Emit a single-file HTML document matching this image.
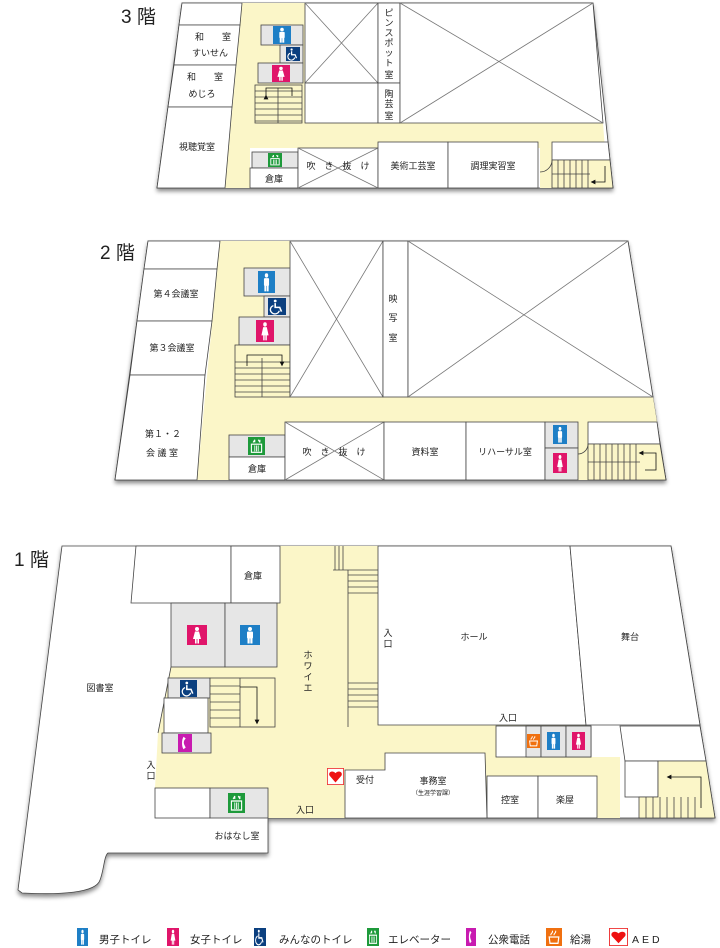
<!DOCTYPE html>
<html><head><meta charset="utf-8"><style>
body{margin:0;background:#fff;}
svg{display:block;}
text{font-family:"Liberation Sans","Noto Sans CJK JP",sans-serif;fill:#222;}
</style></head><body>
<svg width="720" height="948" viewBox="0 0 720 948" xmlns="http://www.w3.org/2000/svg">
<defs>
<filter id="sh" x="-5%" y="-5%" width="110%" height="115%"><feDropShadow dx="0" dy="3" stdDeviation="2" flood-color="#000" flood-opacity="0.45"/></filter>
<marker id="ah" markerWidth="6" markerHeight="6" refX="3" refY="3" orient="auto"><path d="M0,0 L6,3 L0,6 Z" fill="#111"/></marker>
<symbol id="men" viewBox="0 0 20 20" preserveAspectRatio="none"><rect width="20" height="20" fill="#1e7fc6"/><circle cx="10" cy="4" r="2" fill="#fff"/><rect x="7" y="6.5" width="6" height="7" rx="1" fill="#fff"/><rect x="7.5" y="12" width="2.2" height="6.5" fill="#fff"/><rect x="10.3" y="12" width="2.2" height="6.5" fill="#fff"/></symbol>
<symbol id="wom" viewBox="0 0 20 20" preserveAspectRatio="none"><rect width="20" height="20" fill="#e0156a"/><circle cx="10" cy="4" r="2" fill="#fff"/><path d="M8,6.5 H12 L14,14 H6 Z" fill="#fff"/><rect x="8" y="13" width="1.6" height="5.5" fill="#fff"/><rect x="10.4" y="13" width="1.6" height="5.5" fill="#fff"/></symbol>
<symbol id="whl" viewBox="0 0 20 20" preserveAspectRatio="none"><rect width="20" height="20" fill="#0b3f7f"/><circle cx="8" cy="3.5" r="1.6" fill="#fff"/><path d="M8,6 V11 H13 L15,16" stroke="#fff" stroke-width="1.8" fill="none"/><path d="M6,9 A5,5 0 1 0 12.5,15" stroke="#fff" stroke-width="1.5" fill="none"/></symbol>
<symbol id="elv" viewBox="0 0 20 20" preserveAspectRatio="none"><rect width="20" height="20" fill="#1e9a3b"/><rect x="4" y="8" width="12" height="9" fill="none" stroke="#fff" stroke-width="1.3"/><path d="M8,9.5V16M10,9.5V16M12,9.5V16" stroke="#fff"/><path d="M6,6 L8,3 M8,6 V3 M12,3 L14,6 M14,3 V6" stroke="#fff" stroke-width="1.2"/></symbol>
<symbol id="phn" viewBox="0 0 20 20" preserveAspectRatio="none"><rect width="20" height="20" fill="#c81bb0"/><path d="M8,3 C5,6 5,14 8,17 L11,15 L9,12 C8,10 8,9 9,7 L11,5 Z" fill="#fff"/></symbol>
<symbol id="hot" viewBox="0 0 20 20" preserveAspectRatio="none"><rect width="20" height="20" fill="#f07010"/><path d="M4,10 H16 L15,17 H5 Z" fill="none" stroke="#fff" stroke-width="1.5"/><path d="M6,8 C6,5 9,6 8,3 M10,8 C10,5 13,6 12,3" stroke="#fff" stroke-width="1.3" fill="none"/></symbol>
<symbol id="aed" viewBox="0 0 20 20" preserveAspectRatio="none"><rect x="0.5" y="0.5" width="19" height="19" fill="#fff" stroke="#e33" stroke-width="1"/><path d="M10,17 L3,9 C1,5 6,2 10,6 C14,2 19,5 17,9 Z" fill="#e11"/></symbol>
</defs>

<g stroke="#444" stroke-width="0.8" fill="#fff">
<!-- ========== 3F ========== -->
<text x="121" y="23" font-size="19" stroke="none">3 階</text>
<polygon points="182,3 593,3 613,188 157,188" filter="url(#sh)"/>
<polygon points="242,3 305,3 305,123 603,123 608,188 540,188 540,148 250,148 250,188 225,188" fill="#fbf6c8" stroke="none"/>
<polygon points="182,3 242,3 240,25 179,25"/>
<polygon points="179,25 240,25 236,65 174,65"/>
<polygon points="174,65 236,65 232,107 168,107"/>
<polygon points="168,107 232,107 225,188 157,188"/>
<rect x="261" y="25" width="42" height="20" fill="#e6e6e6"/>
<rect x="280" y="45" width="23" height="18" fill="#e6e6e6"/>
<rect x="258" y="63" width="45" height="20" fill="#e6e6e6"/>
<rect x="255" y="85" width="47" height="38" fill="#fbf6c8"/>
<path d="M255,91H302M255,97H302M255,103H302M255,109H302M255,115H302M255,121H302M278,88V123" fill="none"/>
<polyline points="266,97 266,88 292,88 292,96" fill="none" stroke="#111" marker-start="url(#ah)"/>
<rect x="305" y="3" width="73" height="80"/><path d="M305,3L378,83M378,3L305,83" stroke="#777"/>
<rect x="305" y="83" width="73" height="40"/>
<rect x="378" y="3" width="22" height="80"/>
<rect x="378" y="83" width="22" height="40"/>
<polygon points="400,3 593,3 603,123 400,123"/><path d="M400,3L603,123M593,3L400,123" stroke="#777"/>
<rect x="252" y="152" width="46" height="16" fill="#e6e6e6"/>
<rect x="250" y="168" width="48" height="20"/>
<rect x="298" y="148" width="80" height="40"/><path d="M298,148L378,188M378,148L298,188" stroke="#777"/>
<rect x="378" y="142" width="70" height="46"/>
<rect x="448" y="142" width="90" height="46"/>
<polygon points="552,142 608,142 610,160 552,160"/>
<polygon points="552,160 610,160 613,188 552,188" fill="#fbf6c8"/>
<path d="M558,160V188M564,160V188M570,160V188M576,160V188M582,160V188M588,160V188M552,174H590" fill="none"/>
<path d="M552,160 A12,12 0 0 1 540,172" fill="none"/>
<polyline points="605,166 605,182 593,182" fill="none" stroke="#111" marker-end="url(#ah)"/>

<!-- ========== 2F ========== -->
<text x="100" y="259" font-size="19" stroke="none">2 階</text>
<polygon points="148,241 628,241 666,480 115,480" filter="url(#sh)"/>
<polygon points="220,241 292,241 292,397 653,397 657,422 588,422 588,480 578,480 578,422 285,422 285,435 229,435 229,480 197,480" fill="#fbf6c8" stroke="none"/>
<polygon points="148,241 220,241 217,269 144,269"/>
<polygon points="144,269 217,269 212,321 137,321"/>
<polygon points="137,321 212,321 205,375 130,375"/>
<polygon points="130,375 205,375 197,480 115,480"/>
<rect x="244" y="268" width="48" height="28" fill="#e6e6e6"/>
<rect x="264" y="296" width="28" height="21" fill="#e6e6e6"/>
<rect x="239" y="317" width="51" height="28" fill="#e6e6e6"/>
<rect x="235" y="345" width="55" height="52" fill="#fbf6c8"/>
<path d="M235,362H290M235,368H290M235,374H290M235,380H290M235,386H290M235,392H290M262,358V397" fill="none"/>
<polyline points="247,366 247,355 282,355 282,364" fill="none" stroke="#111" marker-end="url(#ah)"/>
<rect x="290" y="241" width="93" height="156"/><path d="M290,241L383,397M383,241L290,397" stroke="#777"/>
<rect x="383" y="241" width="25" height="156"/>
<polygon points="408,241 628,241 653,397 408,397"/><path d="M408,241L653,397M628,241L408,397" stroke="#777"/>
<rect x="229" y="435" width="56" height="22" fill="#e6e6e6"/>
<rect x="229" y="457" width="56" height="23"/>
<rect x="285" y="422" width="99" height="58"/><path d="M285,422L384,480M384,422L285,480" stroke="#777"/>
<rect x="384" y="422" width="82" height="58"/>
<rect x="466" y="422" width="79" height="58"/>
<rect x="545" y="422" width="33" height="26" fill="#e6e6e6"/>
<rect x="545" y="448" width="33" height="32" fill="#e6e6e6"/>
<polygon points="588,422 657,422 660,444 588,444"/>
<polygon points="588,444 660,444 666,480 588,480" fill="#fbf6c8"/>
<path d="M594,444V480M600,444V480M606,444V480M612,444V480M618,444V480M624,444V480M630,444V480M636,444V480M588,462H640" fill="none"/>
<path d="M588,444 A10,10 0 0 1 578,454" fill="none"/>
<polyline points="645,470 656,470 656,453 641,453" fill="none" stroke="#111" marker-end="url(#ah)"/>

<!-- ========== 1F ========== -->
<text x="14" y="566" font-size="19" stroke="none">1 階</text>
<path d="M62,546 L671,546 L715,818 L268,818 L268,853 L108,853 C104,856 104,870 100,880 C96,893 60,895 22,893 L18,890 Z" filter="url(#sh)"/>
<polygon points="277,546 378,546 378,725 586,725 591,757 620,757 620,818 268,818 268,788 155,788 158,733 171,667 277,667" fill="#fbf6c8" stroke="none"/>
<path d="M158,733 L171,667" fill="none"/>
<polygon points="136,546 231,546 231,603 131,603"/>
<rect x="231" y="546" width="49" height="57"/>
<rect x="171" y="603" width="54" height="64" fill="#e6e6e6"/>
<rect x="225" y="603" width="52" height="64" fill="#e6e6e6"/>
<rect x="168" y="678" width="42" height="20" fill="#e6e6e6"/>
<rect x="164" y="698" width="44" height="35"/>
<rect x="162" y="733" width="49" height="20" fill="#e6e6e6"/>
<rect x="210" y="678" width="65" height="49" fill="#fbf6c8"/>
<path d="M210,686H240M210,694H240M210,702H240M210,710H240M210,718H240M240,678V727" fill="none"/>
<polyline points="240,687 257,687 257,722" fill="none" stroke="#111" marker-end="url(#ah)"/>
<path d="M335,546V570M339,546V570M343,546V570M333,570H378M348,570V727M348,575H378M348,581H378M348,587H378M348,593H378M348,683H378M348,689H378M348,695H378M348,701H378M348,707H378" fill="none"/>
<polygon points="378,546 570,546 586,725 378,725"/>
<polygon points="570,546 671,546 700,725 586,725"/>
<rect x="496" y="726" width="95" height="31"/>
<rect x="526" y="726" width="15" height="31" fill="#e6e6e6"/>
<rect x="541" y="726" width="25" height="31" fill="#e6e6e6"/>
<rect x="566" y="726" width="25" height="31" fill="#e6e6e6"/>
<polygon points="620,726 700,726 706,761 625,761"/>
<rect x="625" y="761" width="33" height="36"/>
<polygon points="658,761 706,761 715,818 639,818 639,797 658,797" fill="#fbf6c8"/>
<path d="M646,797V818M653,797V818M660,797V818M667,797V818M674,797V818M681,797V818M688,797V818M695,797V818" fill="none"/>
<polyline points="701,808 701,777 669,777" fill="none" stroke="#111" marker-end="url(#ah)"/>
<rect x="487" y="776" width="51" height="42"/>
<rect x="538" y="776" width="59" height="42"/>
<polygon points="385,753 485,753 487,818 345,818 345,770 385,770"/>
<rect x="155" y="788" width="55" height="30"/>
<rect x="210" y="788" width="58" height="30" fill="#e6e6e6"/>
</g>

<!-- icons -->
<use href="#men" x="273" y="26" width="18" height="18"/>
<use href="#whl" x="286" y="47" width="14" height="14"/>
<use href="#wom" x="272" y="65" width="18" height="17"/>
<use href="#elv" x="268" y="153" width="14" height="14"/>
<use href="#men" x="258" y="271" width="17" height="22"/>
<use href="#whl" x="268" y="298" width="18" height="17"/>
<use href="#wom" x="256" y="320" width="18" height="22"/>
<use href="#elv" x="248" y="437" width="17" height="18"/>
<use href="#men" x="553" y="425" width="14" height="19"/>
<use href="#wom" x="553" y="453" width="14" height="20"/>
<use href="#wom" x="187" y="625" width="20" height="20"/>
<use href="#men" x="240" y="625" width="20" height="20"/>
<use href="#whl" x="180" y="680" width="17" height="17"/>
<use href="#phn" x="178" y="734" width="14" height="18"/>
<use href="#elv" x="228" y="793" width="17" height="20"/>
<use href="#aed" x="327" y="768" width="17" height="17"/>
<use href="#hot" x="527" y="734" width="13" height="14"/>
<use href="#men" x="547" y="732" width="13" height="18"/>
<use href="#wom" x="572" y="732" width="13" height="18"/>

<!-- labels -->
<g font-size="9" text-anchor="middle">
<text x="213" y="40">和　　室</text><text x="210" y="56">すいせん</text>
<text x="205" y="80">和　　室</text><text x="202" y="97">めじろ</text>
<text x="197" y="150">視聴覚室</text>
<text x="274" y="182">倉庫</text>
<text x="338" y="169">吹　き　抜　け</text>
<text x="413" y="169">美術工芸室</text>
<text x="493" y="169">調理実習室</text>
<text x="389" y="16">ピ</text><text x="389" y="26">ン</text><text x="389" y="36">ス</text><text x="389" y="46">ポ</text><text x="389" y="56">ッ</text><text x="389" y="66">ト</text><text x="389" y="78">室</text>
<text x="389" y="97">陶</text><text x="389" y="107">芸</text><text x="389" y="119">室</text>
<text x="176" y="297">第４会議室</text>
<text x="172" y="351">第３会議室</text>
<text x="163" y="437">第１・２</text><text x="162" y="456">会 議 室</text>
<text x="257" y="472">倉庫</text>
<text x="334" y="455">吹　き　抜　け</text>
<text x="425" y="455">資料室</text>
<text x="505" y="455">リハーサル室</text>
<text x="393" y="302">映</text><text x="393" y="321">写</text><text x="393" y="341">室</text>
<text x="253" y="579">倉庫</text>
<text x="100" y="691">図書室</text>
<text x="308" y="658">ホ</text><text x="308" y="669">ワ</text><text x="308" y="680">イ</text><text x="308" y="691">エ</text>
<text x="388" y="636">入</text><text x="388" y="647">口</text>
<text x="474" y="640">ホール</text>
<text x="630" y="640">舞台</text>
<text x="508" y="721">入口</text>
<text x="151" y="768">入</text><text x="151" y="779">口</text>
<text x="365" y="783">受付</text>
<text x="433" y="784">事務室</text>
<text x="433" y="795" font-size="6">（生涯学習課）</text>
<text x="510" y="803">控室</text>
<text x="565" y="803">楽屋</text>
<text x="305" y="813">入口</text>
<text x="237" y="839">おはなし室</text>
</g>

<!-- legend -->
<use href="#men" x="77" y="928" width="11" height="18"/>
<use href="#wom" x="167" y="928" width="12" height="18"/>
<use href="#whl" x="254" y="928" width="12" height="18"/>
<use href="#elv" x="367" y="928" width="12" height="18"/>
<use href="#phn" x="466" y="928" width="10" height="18"/>
<use href="#hot" x="546" y="928" width="16" height="18"/>
<use href="#aed" x="609" y="928" width="19" height="18"/>
<g font-size="10.5">
<text x="99" y="943">男子トイレ</text>
<text x="190" y="943">女子トイレ</text>
<text x="279" y="943">みんなのトイレ</text>
<text x="388" y="943">エレベーター</text>
<text x="488" y="943">公衆電話</text>
<text x="570" y="943">給湯</text>
<text x="632" y="943" letter-spacing="3">AED</text>
</g>
</svg>
</body></html>
